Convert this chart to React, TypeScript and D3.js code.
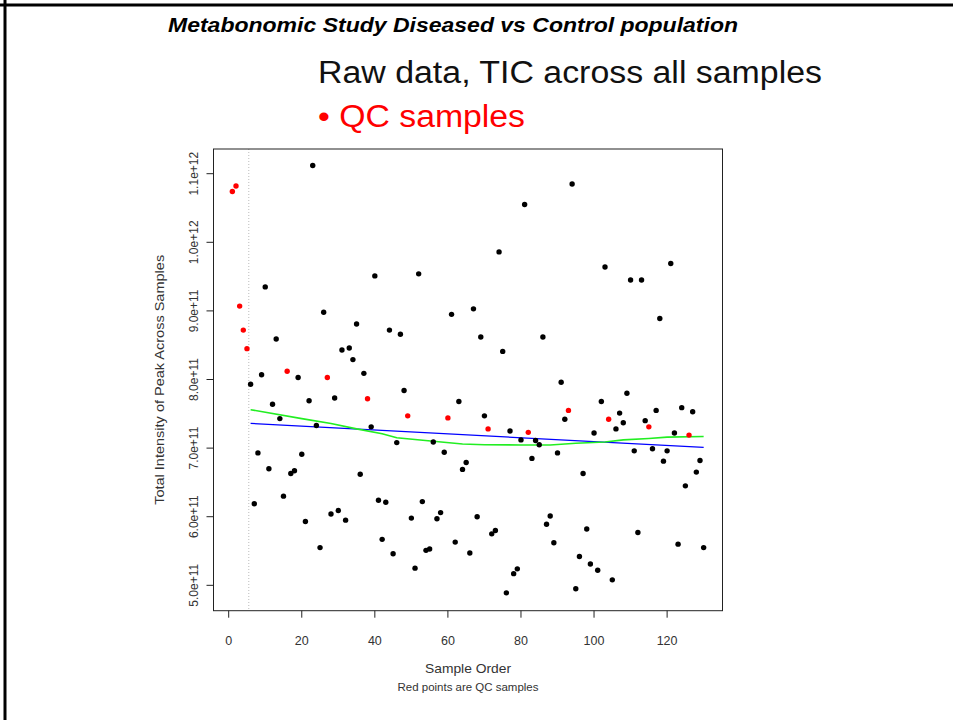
import React from "react";
import * as d3 from "d3";

// Total ion current (units of 1e11) for samples 1..130, in run order
const tic = [
  10.74, 10.82, 9.07, 8.72, 8.45, 7.93, 6.19, 6.93, 8.07, 9.35,
  6.70, 7.64, 8.59, 7.43, 6.30, 8.12, 6.63, 6.67, 8.03, 6.91,
  5.93, 7.69, 11.12, 7.33, 5.55, 8.98, 8.03, 6.04, 7.73, 6.09,
  8.43, 5.95, 8.46, 8.29, 8.81, 6.62, 8.09, 7.72, 7.31, 9.51,
  6.24, 5.67, 6.21, 8.72, 5.46, 7.08, 8.66, 7.84, 7.47, 5.98,
  5.25, 9.54, 6.22, 5.51, 5.53, 7.09, 5.97, 6.06, 6.94, 7.44,
  8.95, 5.63, 7.68, 6.69, 6.79, 5.47, 9.03, 6.00, 8.62, 7.47,
  7.28, 5.75, 5.80, 9.86, 8.41, 4.89, 7.25, 5.17, 5.24, 7.12,
  10.55, 7.23, 6.85, 7.11, 7.05, 8.62, 5.89, 6.01, 5.62, 6.93,
  7.96, 7.42, 7.55, 10.85, 4.95, 5.42, 6.63, 5.82, 5.31, 7.22,
  5.22, 7.68, 9.64, 7.42, 5.08, 7.28, 7.51, 7.37, 7.80, 9.45,
  6.96, 5.77, 9.45, 7.40, 7.31, 6.99, 7.55, 8.89, 6.81, 6.96,
  9.69, 7.22, 5.60, 7.59, 6.45, 7.19, 7.53, 6.65, 6.82, 5.55,
];
const qcSamples = [1, 2, 3, 4, 5, 16, 27, 38, 49, 60, 71, 82, 93, 104, 115, 126];

// linear fit (blue)
const fitX = [6, 130];
const fitY = [7.36, 7.01];
// lowess smooth (green)
const smoothX = [6, 20, 28, 35, 42, 46, 56, 64, 70, 80, 88, 95, 103, 108, 115, 120, 130];
const smoothY = [7.56, 7.43, 7.36, 7.28, 7.21, 7.15, 7.10, 7.06, 7.05, 7.045, 7.045, 7.07, 7.09, 7.12, 7.14, 7.16, 7.17];

const xTicks = [0, 20, 40, 60, 80, 100, 120];
const yTicks = [5, 6, 7, 8, 9, 10, 11];
const yTickLabels = ["5.0e+11", "6.0e+11", "7.0e+11", "8.0e+11", "9.0e+11", "1.0e+12", "1.1e+12"];
const qcCutoff = 5.5;

export default function App() {
  const W = 953, H = 720;
  const left = 213.5, right = 722.5, top = 149, bottom = 610.7;
  const x = d3.scaleLinear().domain([-4.16, 135.16]).range([left, right]);
  const y = d3.scaleLinear().domain([4.63, 11.36]).range([bottom, top]);
  const qcSet = new Set(qcSamples);
  const points = tic.map((v, i) => ({ n: i + 1, v, qc: qcSet.has(i + 1) }));
  const line = d3.line<[number, number]>().x((d) => x(d[0])).y((d) => y(d[1]));
  const fitPath = line(fitX.map((n, i) => [n, fitY[i]]));
  const smoothPath = line(smoothX.map((n, i) => [n, smoothY[i]]));
  const font = "'Liberation Sans', Arial, Helvetica, sans-serif";
  const txt = "#333";

  return (
    <div style={{ position: "absolute", left: 0, top: 0 }}>
      <svg width={W} height={H} style={{ display: "block", background: "#fff" }}>
        {/* slide border */}
        <line x1={0} x2={W} y1={5} y2={5} stroke="#000" strokeWidth={3} />
        <line x1={5} x2={5} y1={0} y2={H} stroke="#000" strokeWidth={3} />

        <text x={168} y={32} fontFamily={font} fontWeight="bold" fontStyle="italic" fontSize={20}
          textLength={570} lengthAdjust="spacingAndGlyphs" fill="#000">
          Metabonomic Study Diseased vs Control population
        </text>
        <text x={318} y={83} fontFamily={font} fontSize={31} textLength={504}
          lengthAdjust="spacingAndGlyphs" fill="#111">
          Raw data, TIC across all samples
        </text>
        <text x={318} y={127} fontFamily={font} fontSize={31} textLength={207}
          lengthAdjust="spacingAndGlyphs" fill="#ff0000">
          • QC samples
        </text>

        {/* QC cutoff */}
        <line x1={x(qcCutoff)} x2={x(qcCutoff)} y1={top} y2={bottom} stroke="#bbb" strokeWidth={1} strokeDasharray="1,2" />

        {/* fitted lines */}
        <path d={fitPath || ""} fill="none" stroke="#0000ff" strokeWidth={1.3} />
        <path d={smoothPath || ""} fill="none" stroke="#22ee22" strokeWidth={1.6} />

        {points.map((p) => (
          <circle key={p.n} cx={x(p.n)} cy={y(p.v)} r={2.7} fill={p.qc ? "#ff0000" : "#000"} />
        ))}

        {/* box */}
        <rect x={left} y={top} width={right - left} height={bottom - top} fill="none" stroke="#222" strokeWidth={1} />

        {/* x axis */}
        {xTicks.map((t) => (
          <g key={t}>
            <line x1={x(t)} x2={x(t)} y1={bottom} y2={bottom + 7} stroke="#222" />
            <text x={x(t)} y={645} textAnchor="middle" fontFamily={font} fontSize={12.5} fill={txt}>{t}</text>
          </g>
        ))}
        {/* y axis */}
        {yTicks.map((t, i) => (
          <g key={t}>
            <line x1={left - 7} x2={left} y1={y(t)} y2={y(t)} stroke="#222" />
            <text transform={`translate(198,${y(t)}) rotate(-90)`} textAnchor="middle" fontFamily={font}
              fontSize={12} fill={txt}>{yTickLabels[i]}</text>
          </g>
        ))}

        <text x={468} y={673} textAnchor="middle" fontFamily={font} fontSize={13.5} textLength={86}
          lengthAdjust="spacingAndGlyphs" fill={txt}>
          Sample Order
        </text>
        <text x={468} y={691} textAnchor="middle" fontFamily={font} fontSize={11} textLength={141}
          lengthAdjust="spacingAndGlyphs" fill={txt}>
          Red points are QC samples
        </text>
        <text transform={`translate(164,${(top + bottom) / 2}) rotate(-90)`} textAnchor="middle"
          fontFamily={font} fontSize={13.5} textLength={250} lengthAdjust="spacingAndGlyphs" fill={txt}>
          Total Intensity of Peak Across Samples
        </text>
      </svg>
    </div>
  );
}
